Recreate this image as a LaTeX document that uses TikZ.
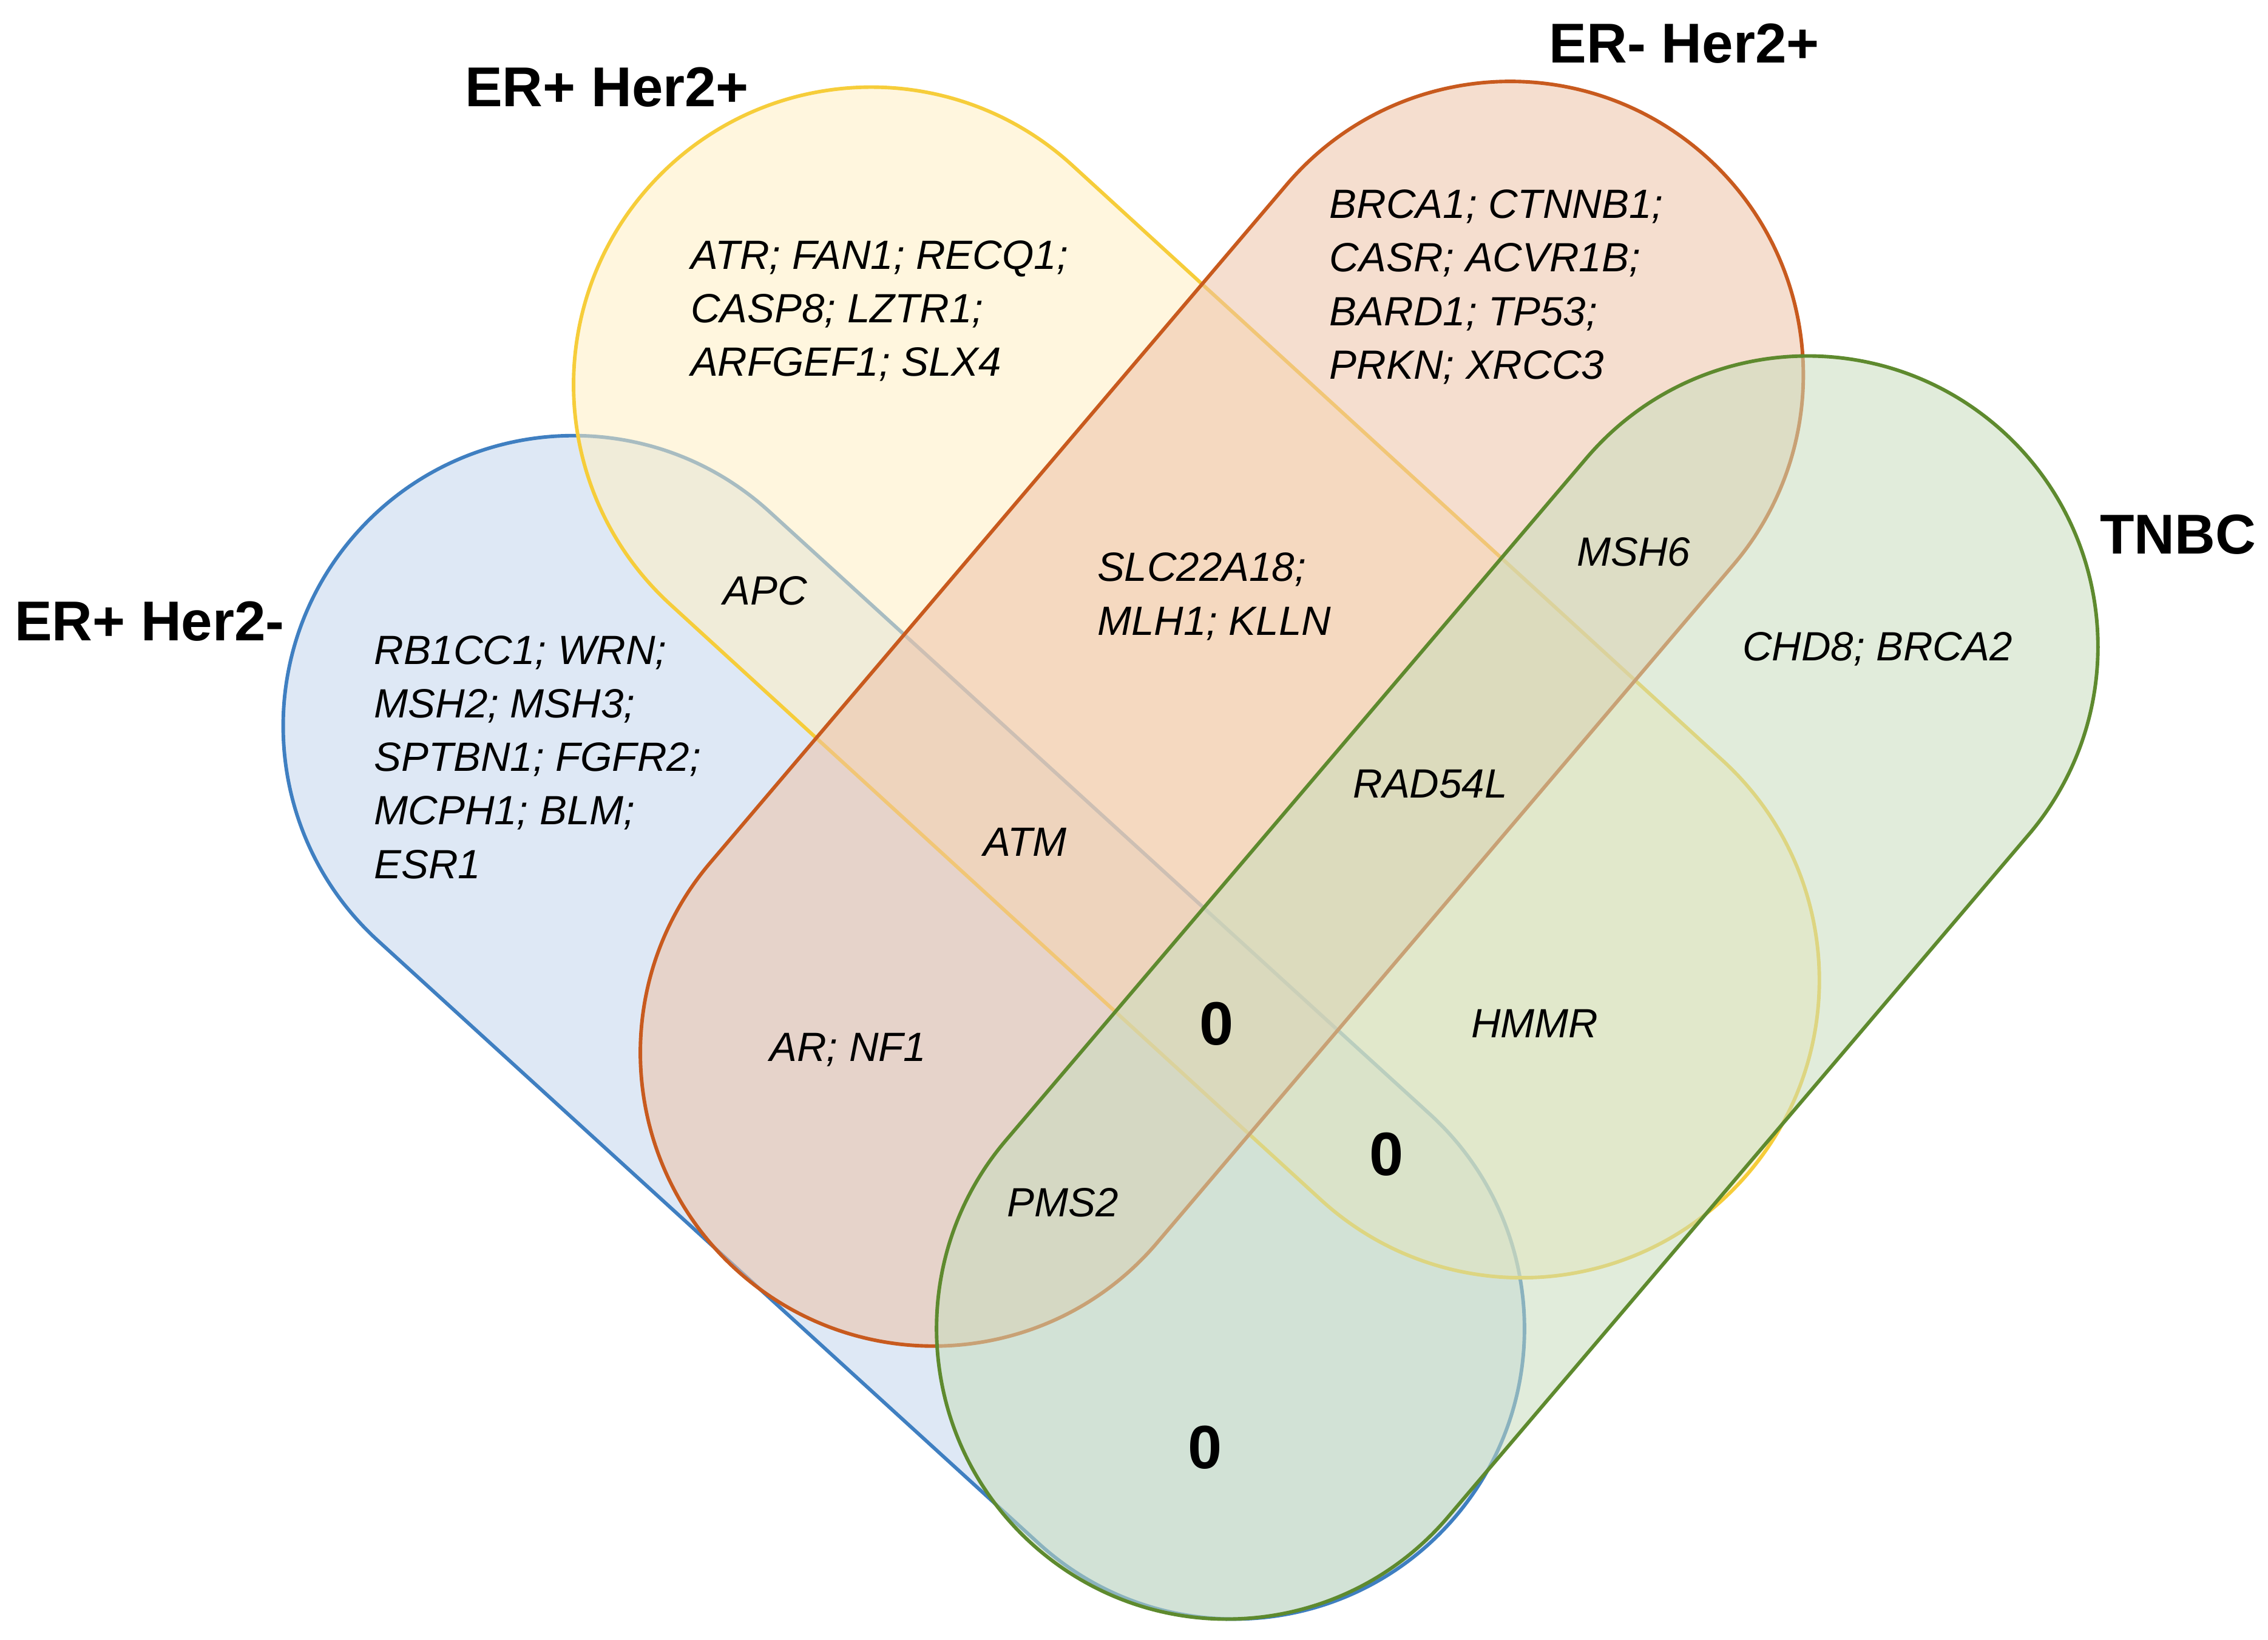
\documentclass[tikz,border=0pt]{standalone}
\usepackage{fontspec}
\setmainfont{Liberation Sans}
\begin{document}
\begin{tikzpicture}
\definecolor{bfill}{HTML}{C2D6EC}\definecolor{bline}{HTML}{3F7FC1}
\definecolor{yfill}{HTML}{FFEFC2}\definecolor{yline}{HTML}{F6CD3A}
\definecolor{ofill}{HTML}{EDC2A8}\definecolor{oline}{HTML}{C85A1E}
\definecolor{gfill}{HTML}{C9DDBD}\definecolor{gline}{HTML}{5E8A2E}
\tikzset{
 set/.style={line width=0.7pt, fill opacity=0.55},
 gene/.style={font=\fontsize{8}{10.5}\selectfont\itshape, align=left, inner sep=0pt},
 title/.style={font=\fontsize{11}{13}\selectfont\bfseries, inner sep=0pt},
 zero/.style={font=\fontsize{12}{14}\selectfont\bfseries, inner sep=0pt}}
\useasboundingbox (0,0) rectangle (15.62,11.29);
\newcommand\stadium[6]{% x y angle length r style
 \begin{scope}[shift={(#1,#2)},rotate=#3]
 \path[#6] (0,-#5) -- (#4,-#5) arc(-90:90:#5) -- (0,#5) arc(90:270:#5) -- cycle;
 \end{scope}}
\stadium{3.95}{6.29}{-42.37}{6.158}{2.0}{set,fill=bfill,draw=bline}
\stadium{6.00}{8.64}{-42.46}{6.073}{2.05}{set,fill=yfill,draw=yline}
\stadium{6.43}{4.04}{49.63}{6.129}{2.02}{set,fill=ofill,draw=oline}
\stadium{8.45}{2.14}{49.6}{6.17}{2.0}{set,fill=gfill,draw=gline}
\node[title] (t1) at (4.18,10.69) {ER+ Her2+};
\node[title] (t2) at (11.60,10.99) {ER- Her2+};
\node[title] (t3) at (15.00,7.61) {TNBC};
\node[title] (t4) at (1.03,7.01) {ER+ Her2-};
\node[gene,anchor=north west] (g1) at (4.75,9.64) {ATR; FAN1; RECQ1;\\CASP8; LZTR1;\\ARFGEF1; SLX4};
\node[gene,anchor=north west] (g2) at (9.15,9.99) {BRCA1; CTNNB1;\\CASR; ACVR1B;\\BARD1; TP53;\\PRKN; XRCC3};
\node[gene,anchor=north west] (g3) at (2.57,6.92) {RB1CC1; WRN;\\MSH2; MSH3;\\SPTBN1; FGFR2;\\MCPH1; BLM;\\ESR1};
\node[gene,anchor=north west] (g4) at (7.55,7.49) {SLC22A18;\\MLH1; KLLN};
\node[gene] (g5) at (5.27,7.22) {APC};
\node[gene] (g6) at (11.25,7.49) {MSH6};
\node[gene] (g7) at (12.93,6.82) {CHD8; BRCA2};
\node[gene] (g8) at (9.85,5.89) {RAD54L};
\node[gene] (g9) at (7.06,5.49) {ATM};
\node[gene] (g10) at (5.84,4.06) {AR; NF1};
\node[gene] (g11) at (10.57,4.24) {HMMR};
\node[gene] (g12) at (7.32,3.01) {PMS2};
\node[zero] (z1) at (8.38,4.24) {0};
\node[zero] (z2) at (9.55,3.34) {0};
\node[zero] (z3) at (8.30,1.32) {0};
\end{tikzpicture}
\end{document}
